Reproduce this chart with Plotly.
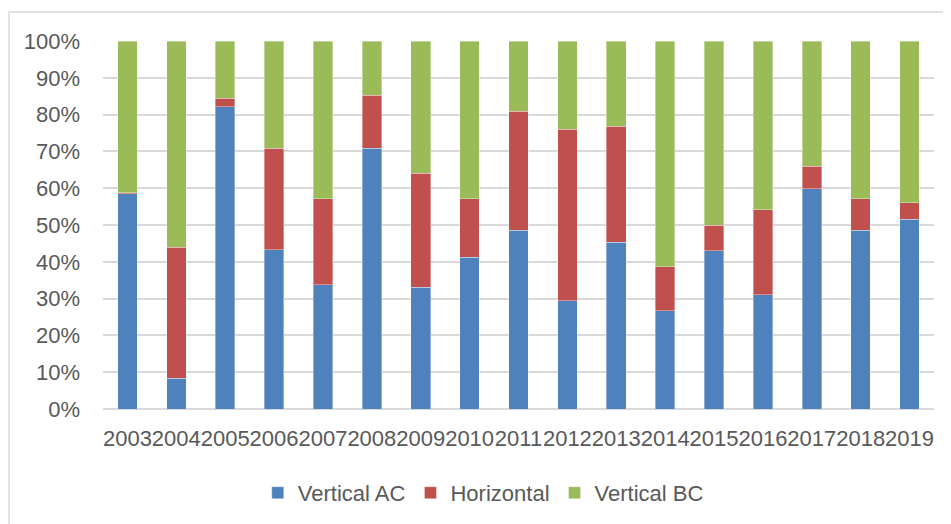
import plotly.graph_objects as go

years = ["2003", "2004", "2005", "2006", "2007", "2008", "2009", "2010", "2011",
         "2012", "2013", "2014", "2015", "2016", "2017", "2018", "2019"]

# shares in percent
vertical_ac = [58.5, 8.4, 82.1, 43.3, 33.8, 70.9, 33.1, 41.3, 48.6,
               29.4, 45.3, 26.7, 43.0, 31.1, 59.8, 48.6, 51.6]
horizontal = [0.3, 35.5, 2.3, 27.5, 23.4, 14.3, 31.0, 15.9, 32.3,
              46.6, 31.5, 11.9, 6.9, 23.0, 6.1, 8.6, 4.4]
vertical_bc = [41.2, 56.1, 15.6, 29.2, 42.8, 14.8, 35.9, 42.8, 19.1,
               24.0, 23.2, 61.4, 50.1, 45.9, 34.1, 42.8, 44.0]

series = [
    ("Vertical AC", vertical_ac, "#4f81bd"),
    ("Horizontal", horizontal, "#c0504d"),
    ("Vertical BC", vertical_bc, "#9bbb59"),
]

FONT = "Liberation Sans"
GREY = "#595959"

fig = go.Figure()
for name, vals, colour in series:
    fig.add_trace(go.Bar(
        x=years, y=[v / 100 for v in vals],
        name=name,
        marker=dict(color=colour, line=dict(color="rgba(255,255,255,0.6)", width=0.6)),
    ))

# the page body has an 8px margin, so margins are shifted to compensate
fig.update_layout(
    barmode="stack",
    bargap=0.6,
    width=951, height=524,
    margin=dict(l=95, r=25, t=33, b=123, autoexpand=False),
    paper_bgcolor="white", plot_bgcolor="white",
    font=dict(family=FONT, size=22, color=GREY),
    showlegend=True,
    legend=dict(
        orientation="h",
        x=0.4576, xanchor="center",
        y=-0.228, yanchor="middle",
        font=dict(size=22, color=GREY),
        traceorder="normal",
        itemwidth=30,
    ),
    xaxis=dict(
        type="category",
        tickangle=0,
        automargin=False,
        showgrid=False,
        showline=False,
        ticks="",
        ticklabelstandoff=14,
    ),
    yaxis=dict(
        range=[0, 1],
        dtick=0.1,
        tickformat=".0%",
        automargin=False,
        showgrid=True,
        gridcolor="#d9d9d9",
        gridwidth=1.5,
        zeroline=True,
        zerolinecolor="#d9d9d9",
        zerolinewidth=1.5,
        showline=False,
        ticks="",
        ticklabelstandoff=22,
    ),
    shapes=[dict(
        type="rect", xref="paper", yref="paper",
        x0=-0.1131, x1=1.3, y0=-0.6, y1=1.0788,
        line=dict(color="#d9d9d9", width=1.5),
        layer="below",
    )],
)

fig.write_html("out.html")
